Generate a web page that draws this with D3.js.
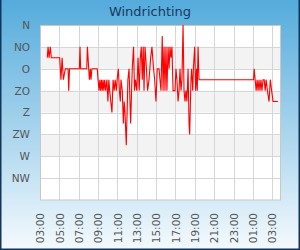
<!DOCTYPE html>
<html>
<head>
<meta charset="utf-8">
<script src="https://cdn.jsdelivr.net/npm/d3@7"></script>
<style>
  html, body { margin: 0; padding: 0; background: #fff; }
  svg { display: block; font-family: "DejaVu Sans", sans-serif; }
</style>
</head>
<body>
<svg id="chart" width="300" height="250"></svg>
<script>
// wind direction readings, degrees (0 = N), times roll over midnight
const times = [
  "03:45","03:50","03:56","04:04","04:10","05:02","05:10","05:17","05:25","05:37",
  "05:54","05:58","06:03","07:04","07:08","07:12","07:50","07:54","08:06","08:12",
  "08:16","08:22","08:55","09:00","09:06","09:11","09:16","09:21","09:26","09:31",
  "09:36","09:41","09:47","09:55","10:01","10:07","10:12","10:26","10:33","10:40",
  "10:46","10:53","10:58","11:06","11:12","11:18","11:22","11:30","11:37","11:42",
  "11:47","11:55","12:05","12:12","12:22","12:32","12:40","12:46","12:52","13:00",
  "13:08","13:15","13:22","13:28","13:34","13:40","13:45","13:51","14:00","14:07",
  "14:16","14:26","14:34","14:44","14:51","14:59","15:07","15:18","15:24","15:30",
  "15:38","15:43","15:49","15:55","16:01","16:07","16:14","16:20","16:26","16:32",
  "16:38","16:45","16:57","17:03","17:09","17:16","17:22","17:28","17:34","17:40",
  "17:47","17:53","17:59","18:05","18:11","18:18","18:24","18:28","18:36","18:40",
  "18:47","18:51","18:59","19:05","19:11","19:15","19:20","19:26","01:04","01:08",
  "01:14","01:20","01:26","01:32","01:38","01:44","01:50","01:56","02:03","02:10",
  "02:16","02:22","02:30","02:40","02:48","02:56","03:05","03:35"
];
const directions = [
  67.5, 45, 67.5, 45, 67.5, 67.5, 112.5, 67.5, 112.5, 90,
  90, 135, 90, 90, 45, 90, 90, 45, 112.5, 90,
  112.5, 90, 90, 112.5, 135, 112.5, 135, 112.5, 135, 112.5,
  135, 112.5, 135, 112.5, 157.5, 112.5, 135, 180, 112.5, 135,
  112.5, 135, 112.5, 90, 135, 157.5, 112.5, 135, 202.5, 157.5,
  180, 247.5, 112.5, 90, 202.5, 90, 45, 135, 112.5, 135,
  67.5, 135, 67.5, 45, 112.5, 45, 135, 45, 90, 135,
  112.5, 67.5, 45, 90, 112.5, 157.5, 90, 90, 112.5, 135,
  22.5, 135, 45, 135, 45, 135, 45, 90, 45, 67.5,
  45, 135, 135, 90, 112.5, 157.5, 135, 90, 135, 112.5,
  0, 135, 157.5, 135, 157.5, 90, 202.5, 225, 112.5, 90,
  135, 90, 45, 135, 90, 135, 45, 112.5, 112.5, 90,
  112.5, 135, 112.5, 135, 112.5, 135, 112.5, 135, 112.5, 112.5,
  135, 112.5, 135, 157.5, 112.5, 135, 157.5, 157.5
];
const xTickLabels = ["03:00","05:00","07:00","09:00","11:00","13:00","15:00",
  "17:00","19:00","21:00","23:00","01:00","03:00"];
const xEnd = "03:48";
const yTicks = [0, 45, 90, 135, 180, 225, 270, 315];
const yLabels = ["N", "NO", "O", "ZO", "Z", "ZW", "W", "NW"];

// turn "HH:MM" strings into dates, moving to the next day when time goes back
function toDates(list) {
  let day = 1, prev = -1;
  return list.map(s => {
    const [h, m] = s.split(":").map(Number);
    const mins = h * 60 + m;
    if (mins < prev) day++;
    prev = mins;
    return new Date(2024, 0, day, h, m);
  });
}

const data = toDates(times).map((t, i) => ({ t, dir: directions[i] }));
const tickDates = toDates(xTickLabels);
const endDate = toDates(["23:59", xEnd])[1];

const svg = d3.select("#chart");
const width = 300, height = 250;
const margin = { top: 25, right: 20, bottom: 50, left: 40 };
const innerW = width - margin.left - margin.right;
const innerH = height - margin.top - margin.bottom;

// background
const defs = svg.append("defs");
const bg = defs.append("linearGradient").attr("id", "bg").attr("x1", 0).attr("y1", 0).attr("x2", 0).attr("y2", 1);
bg.append("stop").attr("offset", "0%").attr("stop-color", "#54abdc");
bg.append("stop").attr("offset", "100%").attr("stop-color", "#f5fafd");
svg.append("rect").attr("width", width).attr("height", height).attr("fill", "url(#bg)");
svg.append("path")
  .attr("d", `M0.75,0 V${height - 0.75} H${width - 0.75} V0`)
  .attr("fill", "none").attr("stroke", "#12355c").attr("stroke-width", 1.5);

svg.append("text")
  .attr("x", width / 2).attr("y", 16)
  .attr("text-anchor", "middle")
  .attr("font-size", "13px")
  .attr("fill", "#173a5e")
  .text("Windrichting");

const g = svg.append("g").attr("transform", `translate(${margin.left},${margin.top})`);

const x = d3.scaleTime().domain([tickDates[0], endDate]).range([0, innerW]);
const y = d3.scaleLinear().domain([0, 360]).range([0, innerH]);

g.append("rect").attr("width", innerW).attr("height", innerH).attr("fill", "#fff");

// alternate bands
g.selectAll(".band")
  .data(yTicks.filter((d, i) => i % 2 === 1 && i < 6))
  .enter().append("rect")
  .attr("class", "band")
  .attr("x", 0).attr("width", innerW)
  .attr("y", d => y(d)).attr("height", d => y(d + 45) - y(d))
  .attr("fill", "#f3f3f3");

// y axis with grid
const yAxis = g.append("g")
  .call(d3.axisLeft(y).tickValues(yTicks).tickSize(-innerW).tickPadding(10)
    .tickFormat((d, i) => yLabels[i]));
yAxis.select(".domain").remove();
yAxis.selectAll("line").attr("stroke", "#d6d6d6").attr("shape-rendering", "crispEdges");
yAxis.selectAll("text").attr("font-size", "10.5px").attr("fill", "#555")
  .attr("font-family", "DejaVu Sans");

// x axis with grid
const xAxis = g.append("g")
  .attr("transform", `translate(0,${innerH})`)
  .call(d3.axisBottom(x).tickValues(tickDates).tickSize(-innerH)
    .tickFormat((d, i) => xTickLabels[i]));
xAxis.select(".domain").remove();
xAxis.selectAll("line").attr("stroke", "#d6d6d6").attr("shape-rendering", "crispEdges");
xAxis.selectAll("text")
  .attr("transform", "rotate(-90)")
  .attr("text-anchor", "end")
  .attr("x", -13).attr("y", 0).attr("dy", "0.35em")
  .attr("font-size", "10.5px").attr("fill", "#555")
  .attr("font-family", "DejaVu Sans");

g.append("rect")
  .attr("x", 0.5).attr("y", 0.5).attr("width", innerW).attr("height", innerH - 0.5)
  .attr("fill", "none").attr("stroke", "#c8c8c8");

const line = d3.line().x(d => x(d.t)).y(d => y(d.dir));
g.append("path")
  .datum(data)
  .attr("d", line)
  .attr("fill", "none")
  .attr("stroke", "#ff0000")
  .attr("stroke-width", 1.1)
  .attr("stroke-linejoin", "miter");
</script>
</body>
</html>
